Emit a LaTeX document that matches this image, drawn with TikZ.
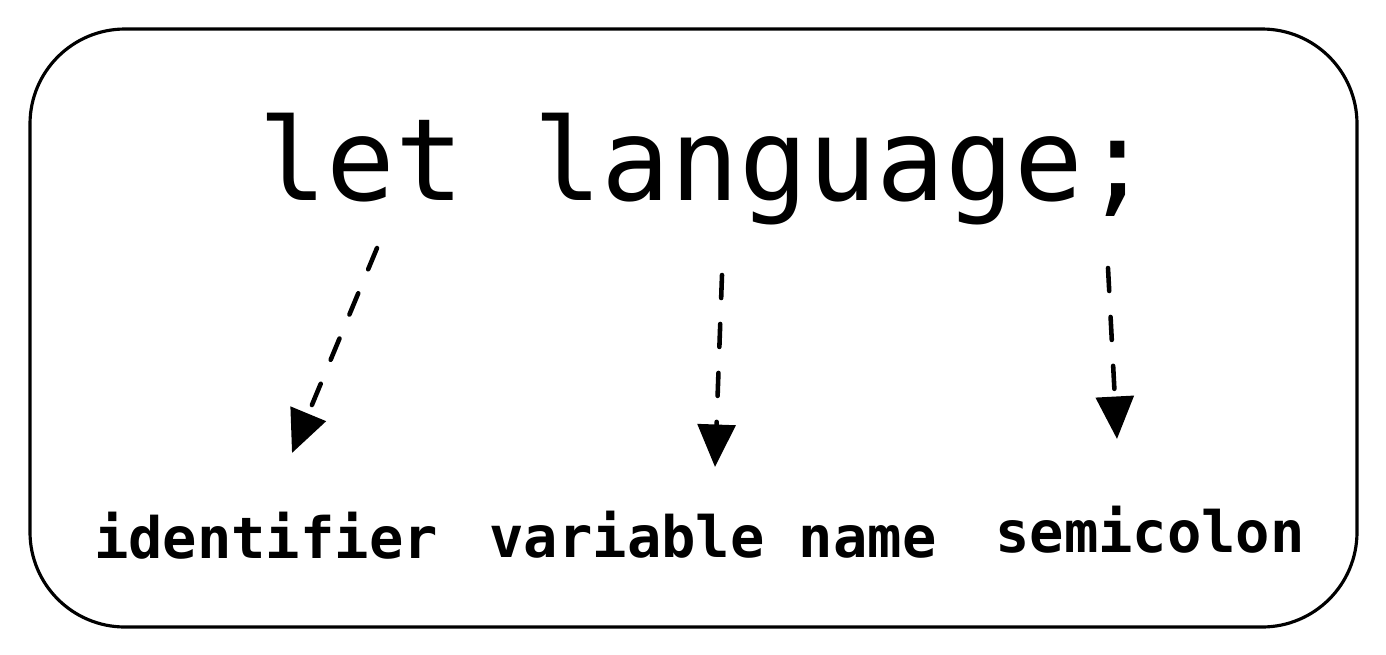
\documentclass[tikz,border=0pt]{standalone}
\usepackage{fontspec}
\setmonofont{DejaVu Sans Mono}
\usetikzlibrary{arrows.meta}

\tikzset{
  code/.style={font=\ttfamily\fontsize{65}{70}\selectfont, inner sep=0pt, anchor=base},
  lbl/.style={font=\ttfamily\bfseries\fontsize{32.5}{36}\selectfont, inner sep=0pt, anchor=base},
  pointer/.style={line width=2.6pt, dash pattern=on 0.46cm off 0.52cm, line cap=round,
    -{Triangle[length=0.85cm, width=0.75cm]}}
}

\begin{document}
\begin{tikzpicture}[x=0.02cm, y=-0.02cm]
\useasboundingbox (0,0) rectangle (1386,654);
% frame
\draw[line width=1.8pt, rounded corners=1.9cm] (30,29) rectangle (1357,627);

\node[code] (let) at (705,200) {let language;};

\node[lbl] (ident) at (266,558) {identifier};
\node[lbl] (varname) at (713,557) {variable name};
\node[lbl] (semi) at (1150,552) {semicolon};

\coordinate (s1) at (377,248);
\coordinate (t1) at (292,453);
\coordinate (s2) at (722,275);
\coordinate (t2) at (715,467);
\coordinate (s3) at (1108,268);
\coordinate (t3) at (1117,439);

\draw[pointer] (s1) -- (t1);
\draw[pointer] (s2) -- (t2);
\draw[pointer] (s3) -- (t3);
\end{tikzpicture}
\end{document}
